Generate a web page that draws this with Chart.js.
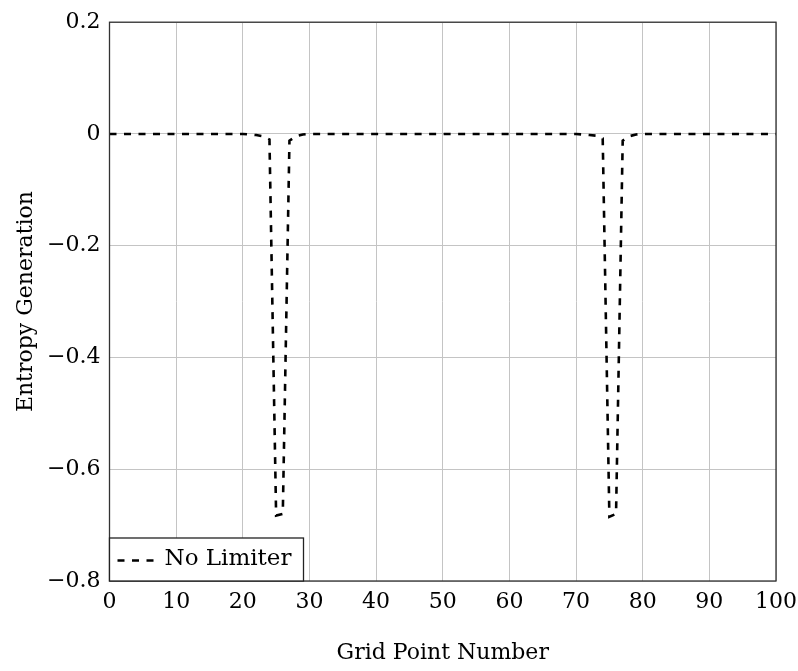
<!DOCTYPE html>
<html>
<head>
<meta charset="utf-8">
<script src="https://cdn.jsdelivr.net/npm/chart.js@4"></script>
<style>
    html, body { margin: 0; padding: 0; background: #fff; }
</style>
</head>
<body>
<canvas id="chart" width="798" height="671"></canvas>
<script>
// grid points where the curve changes, and the entropy
const gridPoints = [0, 20, 21, 22, 23, 24, 25, 26, 27, 28, 29, 30, 70, 71, 72, 73, 74, 75, 76, 77, 78, 79, 80, 100];
const entropyNoLimiter = [0, 0, -0.001, -0.002, -0.004, -0.01, -0.683, -0.68, -0.012, -0.004, -0.001, 0,
    0, -0.001, -0.002, -0.003, -0.008, -0.685, -0.68, -0.012, -0.004, -0.001, 0, 0];
const xTicks = [0, 10, 20, 30, 40, 50, 60, 70, 80, 90, 100];
const yTicks = [-0.8, -0.6, -0.4, -0.2, 0, 0.2];
const seriesLabel = 'No Limiter';

const serif = 'DejaVu Serif';
const ctx = document.getElementById('chart').getContext('2d');

const framePlugin = {
    id: 'frame',
    afterDatasetsDraw(chart) {
        const { ctx, chartArea: a } = chart;
        ctx.save();
        ctx.strokeStyle = '#333';
        ctx.lineWidth = 1.3;
        ctx.strokeRect(a.left, a.top, a.right - a.left, a.bottom - a.top);
        ctx.restore();
    }
};

const boxLegend = {
    id: 'boxLegend',
    afterDraw(chart) {
        const { ctx, chartArea: a } = chart;
        const ds = chart.data.datasets[0];
        const w = 194, h = 43;
        const x = a.left, y = a.bottom - h;
        ctx.save();
        ctx.fillStyle = '#fff';
        ctx.fillRect(x, y, w, h);
        ctx.strokeStyle = '#222';
        ctx.lineWidth = 1.3;
        ctx.strokeRect(x, y, w, h);
        ctx.strokeStyle = ds.borderColor;
        ctx.lineWidth = ds.borderWidth;
        ctx.setLineDash(ds.borderDash);
        ctx.beginPath();
        ctx.moveTo(x + 8, y + h / 2 + 1);
        ctx.lineTo(x + 46, y + h / 2 + 1);
        ctx.stroke();
        ctx.setLineDash([]);
        ctx.fillStyle = '#000';
        ctx.font = '23px "' + serif + '"';
        ctx.textBaseline = 'middle';
        ctx.fillText(ds.label, x + 55, y + h / 2);
        ctx.restore();
    }
};

new Chart(ctx, {
    type: 'line',
    data: {
        datasets: [{
            label: seriesLabel,
            data: gridPoints.map((g, i) => ({ x: g, y: entropyNoLimiter[i] })),
            borderColor: '#000',
            borderWidth: 2.6,
            borderDash: [7, 7.5],
            pointRadius: 0,
            tension: 0,
            fill: false
        }]
    },
    options: {
        responsive: false,
        animation: false,
        layout: { padding: { top: 20, right: 0, left: 0, bottom: 0 } },
        plugins: {
            legend: { display: false },
            tooltip: { enabled: false }
        },
        scales: {
            x: {
                type: 'linear',
                min: 0,
                max: 100,
                afterBuildTicks: (scale) => { scale.ticks = xTicks.map(v => ({ value: v })); },
                afterFit: (scale) => {
                    scale.height = 90;
                    scale.paddingRight = 22;
                    scale.paddingLeft = 0;
                },
                grid: { color: '#c4c4c4', lineWidth: 1, drawTicks: false },
                border: { display: false },
                ticks: {
                    padding: 8,
                    color: '#000',
                    font: { family: serif, size: 22 },
                    maxRotation: 0
                },
                title: {
                    display: true,
                    text: 'Grid Point Number',
                    color: '#000',
                    font: { family: serif, size: 22 },
                    padding: { top: 0, bottom: 5 }
                }
            },
            y: {
                type: 'linear',
                min: -0.8,
                max: 0.2,
                afterBuildTicks: (scale) => { scale.ticks = yTicks.map(v => ({ value: v })); },
                afterFit: (scale) => { scale.width = 109.5; },
                grid: { color: '#c4c4c4', lineWidth: 1, drawTicks: false },
                border: { display: false },
                ticks: {
                    padding: 9,
                    color: '#000',
                    font: { family: serif, size: 22 },
                    callback: (v) => v < 0 ? '\u2212' + Math.abs(v).toFixed(1) : (v === 0 ? '0' : v.toFixed(1))
                },
                title: {
                    display: true,
                    text: 'Entropy Generation',
                    color: '#000',
                    font: { family: serif, size: 22 },
                    padding: { top: 13, bottom: 0 }
                }
            }
        }
    },
    plugins: [framePlugin, boxLegend]
});
</script>
</body>
</html>
